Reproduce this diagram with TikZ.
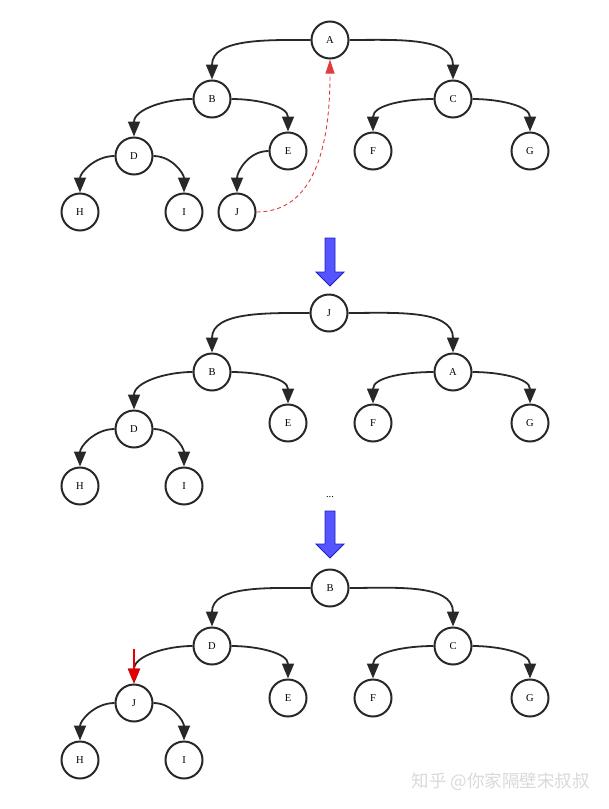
\documentclass[tikz,border=0pt]{standalone}
\usepackage{fontspec}
\setmainfont{Liberation Serif}
\newfontfamily\cjk{Noto Sans CJK SC}
\usetikzlibrary{arrows.meta}
\definecolor{edgegray}{RGB}{40,40,40}
\definecolor{arrowblue}{RGB}{85,85,255}
\definecolor{arrowborder}{RGB}{30,30,200}
\definecolor{redline}{RGB}{225,60,60}
\tikzset{
  tn/.style={circle,draw=edgegray,line width=2pt,minimum size=37pt,inner sep=0pt,font=\fontsize{10.5}{12}\selectfont,fill=white},
  edge/.style={draw=edgegray,line width=1.8pt,-{Triangle[length=15pt,width=12pt]}},
  swap/.style={draw=redline,line width=0.9pt,dash pattern=on 4pt off 3pt,-{Triangle[length=14pt,width=9pt]}},
  bigarrow/.style={fill=arrowblue,draw=arrowborder,line width=0.9pt},
  marker/.style={draw=red!90!black,line width=1.6pt,-{Triangle[length=15pt,width=12pt]}}
}
\begin{document}
\begin{tikzpicture}[x=1pt,y=-1pt]
\useasboundingbox (0,0) rectangle (609,809);
% Tree 1
\node[tn] (A1) at (330,40) {A};
\node[tn] (B1) at (212,99) {B};
\node[tn] (C1) at (453,99) {C};
\node[tn] (D1) at (134,156) {D};
\node[tn] (E1) at (288,151) {E};
\node[tn] (F1) at (373,151) {F};
\node[tn] (G1) at (530,151) {G};
\node[tn] (H1) at (80,212) {H};
\node[tn] (I1) at (184,212) {I};
\node[tn] (J1) at (237,212) {J};
\draw[edge] (A1.west) to[out=180,in=90] (B1.north);
\draw[edge] (A1.east) to[out=0,in=90] (C1.north);
\draw[edge] (B1.west) to[out=180,in=90] (D1.north);
\draw[edge] (B1.east) to[out=0,in=90] (E1.north);
\draw[edge] (C1.west) to[out=180,in=90] (F1.north);
\draw[edge] (C1.east) to[out=0,in=90] (G1.north);
\draw[edge] (D1.west) to[out=180,in=90] (H1.north);
\draw[edge] (D1.east) to[out=0,in=90] (I1.north);
\draw[edge] (E1.west) to[out=180,in=90] (J1.north);
\draw[swap] (J1.east) to[out=0,in=-90] (A1.south);
% Blue arrow 1
\draw[bigarrow] (325,238) -- (335,238) -- (335,272) -- (344,272) -- (330,286) -- (316,272) -- (325,272) -- cycle;
% Tree 2
\node[tn] (J2) at (329,313) {J};
\node[tn] (B2) at (212,372) {B};
\node[tn] (A2) at (453,372) {A};
\node[tn] (D2) at (134,429) {D};
\node[tn] (E2) at (288,423) {E};
\node[tn] (F2) at (373,423) {F};
\node[tn] (G2) at (530,423) {G};
\node[tn] (H2) at (80,486) {H};
\node[tn] (I2) at (184,486) {I};
\draw[edge] (J2.west) to[out=180,in=90] (B2.north);
\draw[edge] (J2.east) to[out=0,in=90] (A2.north);
\draw[edge] (B2.west) to[out=180,in=90] (D2.north);
\draw[edge] (B2.east) to[out=0,in=90] (E2.north);
\draw[edge] (A2.west) to[out=180,in=90] (F2.north);
\draw[edge] (A2.east) to[out=0,in=90] (G2.north);
\draw[edge] (D2.west) to[out=180,in=90] (H2.north);
\draw[edge] (D2.east) to[out=0,in=90] (I2.north);
\node[font=\fontsize{10.5}{12}\selectfont] (dots) at (330,497) {...};
% Blue arrow 2
\draw[bigarrow] (325,511) -- (335,511) -- (335,544) -- (344,544) -- (330,558) -- (316,544) -- (325,544) -- cycle;
% Tree 3
\node[tn] (B3) at (330,588) {B};
\node[tn] (D3) at (212,646) {D};
\node[tn] (C3) at (453,646) {C};
\node[tn] (J3) at (134,703) {J};
\node[tn] (E3) at (288,698) {E};
\node[tn] (F3) at (373,698) {F};
\node[tn] (G3) at (530,698) {G};
\node[tn] (H3) at (80,760) {H};
\node[tn] (I3) at (184,760) {I};
\draw[edge] (B3.west) to[out=180,in=90] (D3.north);
\draw[edge] (B3.east) to[out=0,in=90] (C3.north);
\draw[edge] (D3.west) to[out=180,in=90] (J3.north);
\draw[edge] (D3.east) to[out=0,in=90] (E3.north);
\draw[edge] (C3.west) to[out=180,in=90] (F3.north);
\draw[edge] (C3.east) to[out=0,in=90] (G3.north);
\draw[edge] (J3.west) to[out=180,in=90] (H3.north);
\draw[edge] (J3.east) to[out=0,in=90] (I3.north);
\coordinate (mk) at (134,649);
\draw[marker] (mk) -- (J3.north);
% watermark
\node[font=\cjk\fontsize{17.5}{20}\selectfont,text=black!15,anchor=west] (wm) at (408,782) {知乎 @你家隔壁宋叔叔};
\end{tikzpicture}
\end{document}
